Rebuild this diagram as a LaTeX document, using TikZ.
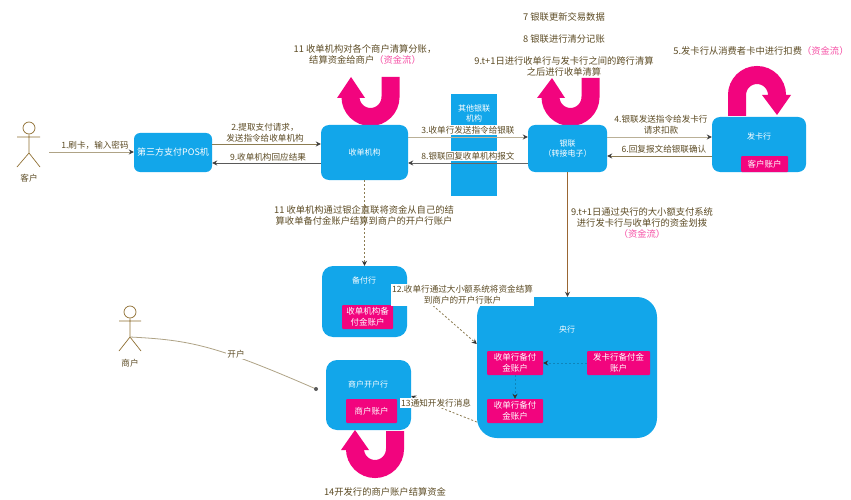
\documentclass[tikz,border=0pt]{standalone}
\usepackage{fontspec}
\setmainfont{Noto Sans CJK SC}
\usetikzlibrary{arrows.meta,calc}
\definecolor{boxblue}{HTML}{12A6EA}
\definecolor{hotpink}{HTML}{F2047E}
\definecolor{inktext}{HTML}{5C4B24}
\definecolor{flowline}{HTML}{8C7C52}
\definecolor{actorline}{HTML}{8F6F32}
\tikzset{
  x=1pt,y=-1pt,
  bluebox/.style={fill=boxblue,rounded corners=#1,text=white,font=\fontsize{8}{10}\selectfont,align=center,inner sep=0pt},
  bluebox/.default=6pt,
  boxtitle/.style={text=white,font=\fontsize{8}{10}\selectfont,align=center},
  account/.style={fill=hotpink,text=white,rounded corners=1pt,font=\fontsize{8.5}{10.5}\selectfont,align=center,inner sep=0pt},
  lab/.style={text=inktext,font=\fontsize{8.6}{11}\selectfont,align=center,inner sep=1pt},
  biglab/.style={lab,font=\fontsize{9.3}{11}\selectfont},
  linelab/.style={lab,fill=white},
  flow/.style={draw=flowline,line width=.8pt,-{Stealth[length=5pt,width=5pt,black!75]}},
  chain/.style={draw=#1,line width=.8pt,dash pattern=on 2pt off 2pt,-{Stealth[length=5pt,width=5pt,black!80]}},
  chain/.default={flowline},
  actor/.style={draw=actorline,line width=.7pt},
  ustroke/.style={draw=hotpink,line width=18pt},
  uhead/.style={fill=hotpink},
}
\begin{document}
\begin{tikzpicture}
\useasboundingbox (0,0) rectangle (851,500);
\fill[white] (0,0) rectangle (851,500);

% pink U-turns
\draw[ustroke] (390.5,77) -- (390.5,97) arc[start angle=0,delta angle=180,radius=20] -- (350.5,95);
\fill[uhead] (351,77) -- (337,98) -- (365,98) -- cycle;
\draw[ustroke] (590.5,78) -- (590.5,97) arc[start angle=0,delta angle=180,radius=20] -- (550.5,95);
\fill[uhead] (552,78) -- (537,98) -- (565,98) -- cycle;
\draw[ustroke] (737,116) -- (737,95) arc[start angle=180,delta angle=180,radius=20] -- (777,97);
\fill[uhead] (777,115) -- (762,95) -- (791,95) -- cycle;
\draw[ustroke] (395,431) -- (395,449) arc[start angle=0,delta angle=180,radius=20] -- (355,447);
\fill[uhead] (355,430) -- (341,450) -- (369,450) -- cycle;

% boxes
\node[bluebox,font=\fontsize{9}{10}\selectfont,minimum width=78pt,minimum height=39pt] (pos) at (173,152.5) {第三方支付POS机};
\node[bluebox=8pt,minimum width=87pt,minimum height=55pt] (acq) at (364.5,152.5) {收单机构};
\node[fill=boxblue,inner sep=0pt,minimum width=46pt,minimum height=102pt] (other) at (474,145) {};
\node[boxtitle] (othertxt) at (474,113) {其他银联\\机构};
\node[bluebox=7pt,minimum width=79pt,minimum height=47pt] (cup) at (567.5,148.5) {银联\\（转接电子）};
\node[bluebox=8pt,minimum width=94pt,minimum height=55pt] (iss) at (759,144.5) {};
\node[boxtitle] (isstxt) at (759,136) {发卡行};
\node[account,minimum width=47pt,minimum height=16pt] (issacc) at (764.5,164) {客户账户};

\node[bluebox=11pt,minimum width=85pt,minimum height=71pt] (res) at (364.5,301.5) {};
\node[boxtitle] (restxt) at (364,280) {备付行};
\node[account,minimum width=51pt,minimum height=24pt] (resacc) at (367.5,317) {收单机构备\\付金账户};

\node[bluebox=11pt,minimum width=85pt,minimum height=70pt] (mbank) at (368.5,395) {};
\node[boxtitle] (mbanktxt) at (368,384) {商户开户行};
\node[account,minimum width=51pt,minimum height=24pt] (macc) at (371.5,411) {商户账户};

\node[bluebox=20pt,minimum width=180pt,minimum height=141pt] (central) at (567,367.5) {};
\node[boxtitle] (centraltxt) at (567,329) {央行};
\node[account,minimum width=56pt,minimum height=24pt] (p1) at (515,363) {收单行备付\\金账户};
\node[account,minimum width=63pt,minimum height=24pt] (p2) at (618.5,363) {发卡行备付金\\账户};
\node[account,minimum width=56pt,minimum height=24pt] (p3) at (515,411) {收单行备付\\金账户};

% actors
\node[circle,actor,minimum size=12pt,inner sep=0pt] (c1) at (29,128) {};
\draw[actor] (c1.south) -- (29,153) coordinate (c1hip) (17,137) -- (40,137) (17,167) -- (c1hip) -- (40,167);
\node[lab] (c1t) at (29,178) {客户};
\coordinate (c1hand) at (49,152);

\node[circle,actor,minimum size=12pt,inner sep=0pt] (c2) at (130,312) {};
\draw[actor] (c2.south) -- (130,337) coordinate (c2hip) (119,321) -- (141,321) (119,351) -- (c2hip) -- (141,351);
\node[lab] (c2t) at (130,363) {商户};
\coordinate (c2open) at (316,389);

% connectors
\draw[flow,draw=flowline!70] (c1hand) -- (pos.west |- c1hand);
\draw[flow] (pos.east |- 0,144) -- (acq.west |- 0,144);
\draw[flow,draw=black!65] (acq.west |- 0,163) -- (pos.east |- 0,163);
\draw[flow,draw=flowline!60] (acq.east |- 0,137) -- (cup.west |- 0,137);
\draw[flow,draw=black!60] (cup.west |- 0,163) -- (acq.east |- 0,163);
\draw[flow,draw=flowline!60] (cup.east |- 0,137) -- (iss.west |- 0,137);
\draw[flow] (iss.west |- 0,156) -- (cup.east |- 0,156);
\draw[flow,draw=brown!80!black] (cup.south) -- (central.north -| cup.south);
\draw[chain] (acq.south) -- (res.north);
\draw[line width=.8pt,draw=flowline!70] (c2hip) .. controls (190,340) and (215,345) .. (c2open);
\fill[black!65] (c2open) circle (2pt);
\coordinate (label12) at (430,303);
\draw[chain] (label12) -- (central.west |- 0,344);
\draw[chain] (central.west |- 0,422) -- (mbank.east |- 0,396);
\draw[chain={boxblue!80!black}] (p2.west) -- (p1.east);
\draw[chain={boxblue!80!black}] (p1.south) -- (p3.north);

% labels
\node[lab] (t1) at (95,145) {1.刷卡，输入密码};
\node[lab] (t2) at (265,132.5) {2.提取支付请求，\\发送指令给收单机构};
\node[lab] (t9) at (268,157) {9.收单机构回应结果};
\node[linelab] (t3) at (468,130) {3.收单行发送指令给银联};
\node[linelab] (t8) at (468,156) {8.银联回复收单机构报文};
\node[lab] (t4) at (661,125) {4.银联发送指令给发卡行\\请求扣款};
\node[lab] (t6) at (664,149) {6.回复报文给银联确认};
\node[biglab] (t7) at (564,17) {7 银联更新交易数据};
\node[biglab] (t8b) at (564,39) {8 银联进行清分记账};
\node[biglab] (t91) at (564,66) {9.t+1日进行收单行与发卡行之间的跨行清算\\之后进行收单清算};
\node[biglab] (t11a) at (365,55) {11 收单机构对各个商户清算分账，\\结算资金给商户\textcolor{hotpink!70}{（资金流）}};
\node[biglab] (t5) at (761,51) {5.发卡行从消费者卡中进行扣费\textcolor{hotpink!70}{（资金流）}};
\node[biglab] (t11b) at (364,215) {11 收单机构通过银企直联将资金从自己的结\\算收单备付金账户结算到商户的开户行账户};
\node[biglab] (t92) at (642,223) {9.t+1日通过央行的大小额支付系统\\进行发卡行与收单行的资金划拨\\\textcolor{hotpink!70}{（资金流）}};
\node[linelab,minimum width=141pt,minimum height=20pt] (t12) at (462.5,295) {12.收单行通过大小额系统将资金结算\\到商户的开户行账户};
\node[linelab,anchor=west] (t13) at (400,403) {13通知开发行消息};
\node[linelab] (topen) at (236,354) {开户};
\node[biglab] (t14) at (385,492) {14开发行的商户账户结算资金};
\end{tikzpicture}
\end{document}
